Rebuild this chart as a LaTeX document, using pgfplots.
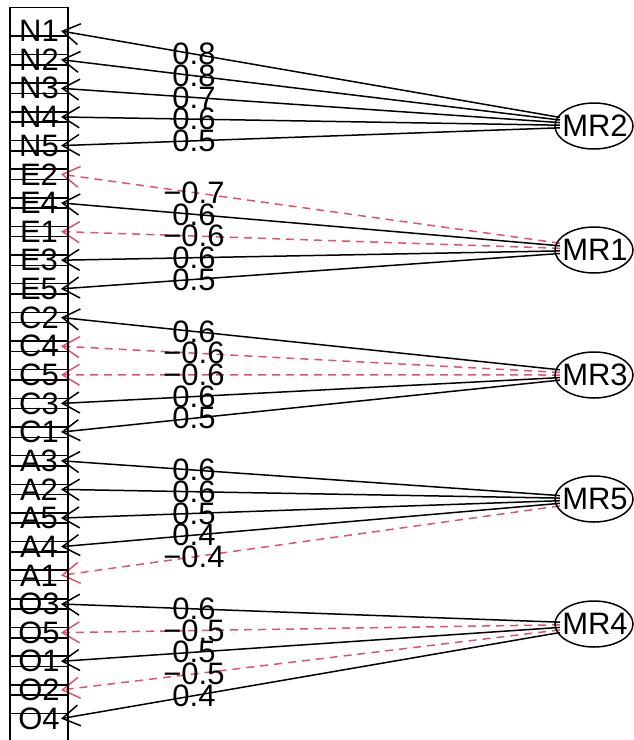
\documentclass[border=0pt]{standalone}
\usepackage{pgfplots}
\pgfplotsset{compat=1.18}
\usepackage{fontspec}
\setmainfont{Liberation Sans}
\usetikzlibrary{arrows.meta}
\definecolor{rd}{HTML}{DF536B}
\newcommand\lab{\fontsize{31}{33}\selectfont}
\begin{document}
\begin{tikzpicture}[
  ps/.style={black, line width=1.5pt, -{Straight Barb[length=17pt,width=21pt]}},
  ng/.style={rd, line width=1.5pt, dash pattern=on 8pt off 6pt, -{Straight Barb[length=17pt,width=21pt]}},
  lbl/.style={pos=0.7335, text=black, font=\lab, inner sep=0pt}]
\begin{axis}[scale only axis, width=634pt, height=740pt,
  xmin=0, xmax=634, ymin=0, ymax=740, y dir=reverse,
  hide axis, clip=false]
% MR2
\addplot[ps] coordinates {(560,117.4) (61,31.0)} node[lbl] {0.8};
\addplot[ps] coordinates {(560,120.0) (61,59.65)} node[lbl] {0.8};
\addplot[ps] coordinates {(560,122.6) (61,88.3)} node[lbl] {0.7};
\addplot[ps] coordinates {(560,125.2) (61,116.95)} node[lbl] {0.6};
\addplot[ps] coordinates {(560,127.8) (61,145.6)} node[lbl] {0.5};
% MR1
\addplot[ng] coordinates {(560,243.2) (61,174.25)} node[lbl] {−0.7};
\addplot[ps] coordinates {(560,245.8) (61,202.9)} node[lbl] {0.6};
\addplot[ng] coordinates {(560,248.3) (61,231.55)} node[lbl] {−0.6};
\addplot[ps] coordinates {(560,250.9) (61,260.2)} node[lbl] {0.6};
\addplot[ps] coordinates {(560,253.5) (61,288.85)} node[lbl] {0.5};
% MR3
\addplot[ps] coordinates {(560,369.8) (61,317.5)} node[lbl] {0.6};
\addplot[ng] coordinates {(560,372.4) (61,346.15)} node[lbl] {−0.6};
\addplot[ng] coordinates {(560,375.0) (61,374.8)} node[lbl] {−0.6};
\addplot[ps] coordinates {(560,377.6) (61,403.45)} node[lbl] {0.6};
\addplot[ps] coordinates {(560,380.1) (61,432.1)} node[lbl] {0.5};
% MR5
\addplot[ps] coordinates {(560,495.6) (61,460.75)} node[lbl] {0.6};
\addplot[ps] coordinates {(560,498.1) (61,489.4)} node[lbl] {0.6};
\addplot[ps] coordinates {(560,500.7) (61,518.05)} node[lbl] {0.5};
\addplot[ps] coordinates {(560,503.3) (61,546.7)} node[lbl] {0.4};
\addplot[ng] coordinates {(560,505.9) (61,575.35)} node[lbl] {−0.4};
% MR4
\addplot[ps] coordinates {(560,622.2) (61,604.0)} node[lbl] {0.6};
\addplot[ng] coordinates {(560,624.8) (61,632.65)} node[lbl] {−0.5};
\addplot[ps] coordinates {(560,627.4) (61,661.3)} node[lbl] {0.5};
\addplot[ng] coordinates {(560,629.9) (61,689.95)} node[lbl] {−0.5};
\addplot[ps] coordinates {(560,632.5) (61,718.6)} node[lbl] {0.4};
% variable boxes
\begin{scope}[line width=1.5pt]
\draw (axis cs:10,7.5) rectangle (axis cs:68,54.5);
\draw (axis cs:10,36.15) rectangle (axis cs:68,83.15);
\draw (axis cs:10,64.8) rectangle (axis cs:68,111.8);
\draw (axis cs:10,93.45) rectangle (axis cs:68,140.45);
\draw (axis cs:10,122.1) rectangle (axis cs:68,169.1);
\draw (axis cs:10,150.75) rectangle (axis cs:68,197.75);
\draw (axis cs:10,179.4) rectangle (axis cs:68,226.4);
\draw (axis cs:10,208.05) rectangle (axis cs:68,255.05);
\draw (axis cs:10,236.7) rectangle (axis cs:68,283.7);
\draw (axis cs:10,265.35) rectangle (axis cs:68,312.35);
\draw (axis cs:10,294.0) rectangle (axis cs:68,341.0);
\draw (axis cs:10,322.65) rectangle (axis cs:68,369.65);
\draw (axis cs:10,351.3) rectangle (axis cs:68,398.3);
\draw (axis cs:10,379.95) rectangle (axis cs:68,426.95);
\draw (axis cs:10,408.6) rectangle (axis cs:68,455.6);
\draw (axis cs:10,437.25) rectangle (axis cs:68,484.25);
\draw (axis cs:10,465.9) rectangle (axis cs:68,512.9);
\draw (axis cs:10,494.55) rectangle (axis cs:68,541.55);
\draw (axis cs:10,523.2) rectangle (axis cs:68,570.2);
\draw (axis cs:10,551.85) rectangle (axis cs:68,598.85);
\draw (axis cs:10,580.5) rectangle (axis cs:68,627.5);
\draw (axis cs:10,609.15) rectangle (axis cs:68,656.15);
\draw (axis cs:10,637.8) rectangle (axis cs:68,684.8);
\draw (axis cs:10,666.45) rectangle (axis cs:68,713.45);
\draw (axis cs:10,695.1) rectangle (axis cs:68,742.1);
% factor ellipses
\draw (axis cs:594,126) ellipse [x radius=39pt, y radius=23pt];
\draw (axis cs:594,250) ellipse [x radius=39pt, y radius=23pt];
\draw (axis cs:594,375) ellipse [x radius=39pt, y radius=23pt];
\draw (axis cs:594,499) ellipse [x radius=39pt, y radius=23pt];
\draw (axis cs:594,624) ellipse [x radius=39pt, y radius=23pt];
\end{scope}
\begin{scope}[every node/.style={font=\lab, inner sep=0pt}]
\node at (axis cs:39,31.0) {N1};
\node at (axis cs:39,59.65) {N2};
\node at (axis cs:39,88.3) {N3};
\node at (axis cs:39,116.95) {N4};
\node at (axis cs:39,145.6) {N5};
\node at (axis cs:39,174.25) {E2};
\node at (axis cs:39,202.9) {E4};
\node at (axis cs:39,231.55) {E1};
\node at (axis cs:39,260.2) {E3};
\node at (axis cs:39,288.85) {E5};
\node at (axis cs:39,317.5) {C2};
\node at (axis cs:39,346.15) {C4};
\node at (axis cs:39,374.8) {C5};
\node at (axis cs:39,403.45) {C3};
\node at (axis cs:39,432.1) {C1};
\node at (axis cs:39,460.75) {A3};
\node at (axis cs:39,489.4) {A2};
\node at (axis cs:39,518.05) {A5};
\node at (axis cs:39,546.7) {A4};
\node at (axis cs:39,575.35) {A1};
\node at (axis cs:39,604.0) {O3};
\node at (axis cs:39,632.65) {O5};
\node at (axis cs:39,661.3) {O1};
\node at (axis cs:39,689.95) {O2};
\node at (axis cs:39,718.6) {O4};
\node at (axis cs:595,126) {MR2};
\node at (axis cs:595,250) {MR1};
\node at (axis cs:595,375) {MR3};
\node at (axis cs:595,499) {MR5};
\node at (axis cs:595,624) {MR4};
\end{scope}
\end{axis}
\pgfresetboundingbox
\path (current axis.south west) rectangle (current axis.north east);
\end{tikzpicture}
\end{document}
